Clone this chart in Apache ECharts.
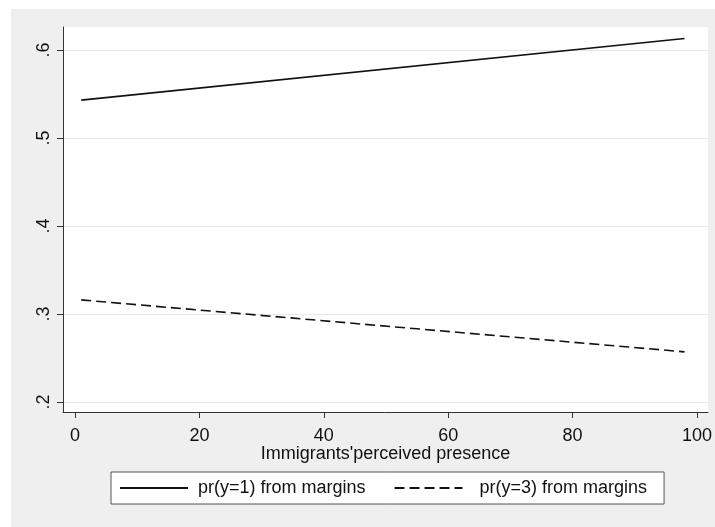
<!DOCTYPE html>
<html>
<head>
<meta charset="utf-8">
<script src="https://cdn.jsdelivr.net/npm/echarts@6/dist/echarts.min.js"></script>
<style>
html,body{margin:0;padding:0;background:#ffffff;}
#chart{position:absolute;left:11px;top:9px;width:704px;height:518px;}
</style>
</head>
<body>
<div id="chart"></div>
<script>
// Data
const xTicks = [0, 20, 40, 60, 80, 100];
const yTicks = [0.2, 0.3, 0.4, 0.5, 0.6];
const xValues = [1, 98];
const pr1 = [0.543, 0.613];
const pr3 = [0.316, 0.257];
const seriesNames = ['pr(y=1) from margins', 'pr(y=3) from margins'];
const xTitle = "Immigrants'perceived presence";

const font = 'Liberation Sans, Arial, Helvetica, sans-serif';
const chart = echarts.init(document.getElementById('chart'));
const fmtY = v => {
  const s = (Math.round(v * 10) / 10).toFixed(1);
  return s.replace(/^0/, '');
};
chart.setOption({
  backgroundColor: '#efefef',
  animation: false,
  textStyle: {fontFamily: font},
  grid: {
    left: 52, top: 18, right: 6, bottom: 115,
    show: true, backgroundColor: '#ffffff', borderWidth: 0
  },
  xAxis: {
    type: 'value',
    min: -1.93, max: 101.77,
    name: xTitle,
    nameLocation: 'middle',
    nameGap: 33,
    nameMoveOverlap: false,
    nameTextStyle: {fontSize: 18, color: '#111', fontFamily: font},
    axisLine: {show: true, onZero: false, lineStyle: {color: '#333', width: 1}},
    axisTick: {show: true, length: 6, lineStyle: {color: '#333'}, customValues: xTicks},
    axisLabel: {fontSize: 18, color: '#111', margin: 15, fontFamily: font, customValues: xTicks},
    splitLine: {show: false}
  },
  yAxis: {
    type: 'value',
    min: 0.18864, max: 0.6261,
    axisLine: {show: true, onZero: false, lineStyle: {color: '#333', width: 1}},
    axisTick: {show: true, length: 6, lineStyle: {color: '#333'}, customValues: yTicks},
    axisLabel: {fontSize: 18, color: '#111', margin: 10, rotate: 90, fontFamily: font,
                customValues: yTicks, formatter: fmtY},
    splitLine: {show: true, lineStyle: {color: '#e6e6e6', width: 1}}
  },
  legend: {
    left: 100, top: 463,
    backgroundColor: '#ffffff',
    borderColor: '#555',
    borderWidth: 1,
    padding: [7, 17, 7, 8],
    itemGap: 28,
    itemWidth: 68,
    itemHeight: 14,
    itemStyle: {opacity: 0, borderWidth: 0},
    textStyle: {fontSize: 18, color: '#111', fontFamily: font, padding: [0, 0, 0, 5]},
    data: [
      {name: seriesNames[0]},
      {name: seriesNames[1], textStyle: {padding: [0, 0, 0, 12]}}
    ]
  },
  series: [
    {
      name: seriesNames[0], type: 'line', symbol: 'none',
      data: xValues.map((x, i) => [x, pr1[i]]),
      lineStyle: {color: '#111', width: 1.6, type: 'solid'},
      itemStyle: {color: '#111'}
    },
    {
      name: seriesNames[1], type: 'line', symbol: 'none',
      data: xValues.map((x, i) => [x, pr3[i]]),
      lineStyle: {color: '#111', width: 1.6, type: [10, 5]},
      itemStyle: {color: '#111'}
    }
  ]
});
</script>
</body>
</html>
